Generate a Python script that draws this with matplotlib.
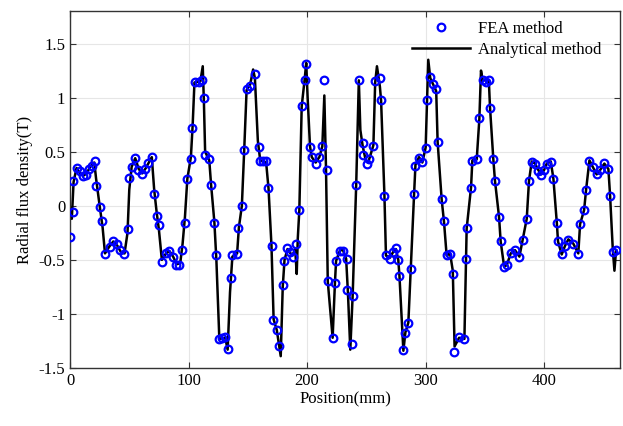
import matplotlib
matplotlib.use("Agg")
import matplotlib.pyplot as plt

plt.rcParams['font.family'] = ['Liberation Serif', 'DejaVu Serif']

fea_x = [0, 2.2, 2.8, 6.2, 8.4, 11.3, 13.5, 16.3, 18.3, 21.1, 22.0, 25.3, 26.7, 29.5,
         33.8, 36.6, 40.0, 42.2, 45.9, 48.7, 50.1, 52.0, 54.9, 57.7, 60.5, 63.3, 66.1,
         68.9, 71.2, 73.1, 74.8, 77.4, 81.0, 83.8, 86.6, 89.5, 92.3, 94.2, 97.0, 98.5,
         101.8, 103.2, 105.2, 108.6, 111.5, 112.8, 113.9, 117.6, 118.9, 121.8, 123.2,
         126.0, 128.0, 130.8, 133.0, 136.0, 137.0, 141.2, 142.0, 144.9, 146.9, 149.5,
         152.2, 156.5, 159.2, 160.3, 163.1, 165.4, 167.4, 170.2, 171.6, 174.4, 176.4,
         179.5, 180.9, 183.4, 185.7, 187.9, 190.4, 193.5, 195.5, 198.0, 199.0, 202.5,
         203.9, 207.3, 210.4, 212.9, 214.2, 216.6, 217.4, 221.6, 223.6, 224.4, 227.5,
         230.3, 233.7, 234.0, 238.0, 238.5, 241.6, 243.7, 247.0, 247.5, 250.9, 252.6,
         256.0, 257.7, 261.6, 262.2, 265.3, 266.6, 270.0, 272.3, 275.1, 277.1, 277.9,
         281.3, 282.7, 285.5, 287.5, 290.3, 291.1, 294.5, 297.3, 300.1, 301.3, 304.0,
         306.4, 309.0, 310.2, 313.6, 315.6, 317.8, 320.7, 323.5, 324.3, 328.3, 332.8,
         334.2, 334.7, 338.4, 339.5, 343.2, 345.4, 348.3, 350.7, 353.4, 354.4, 357.2,
         358.6, 362.0, 363.4, 366.3, 368.5, 371.9, 375.5, 379.2, 382.0, 385.4, 387.3,
         389.6, 392.4, 395.2, 397.5, 400.0, 402.3, 405.7, 407.9, 410.8, 411.8, 414.9,
         417.7, 420.5, 424.7, 428.9, 430.4, 433.8, 435.5, 438.3, 441.1, 444.4, 447.3,
         450.9, 454.3, 455.7, 458.5, 460.8]
fea_y = [-0.29, -0.06, 0.23, 0.35, 0.32, 0.28, 0.285, 0.34, 0.37, 0.41, 0.18, -0.01, -0.14, -0.45,
         -0.38, -0.325, -0.35, -0.41, -0.45, -0.21, 0.26, 0.36, 0.44, 0.33, 0.295, 0.34, 0.40,
         0.45, 0.11, -0.09, -0.175, -0.52, -0.44, -0.42, -0.47, -0.55, -0.55, -0.41, -0.16, 0.25,
         0.43, 0.72, 1.145, 1.145, 1.16, 1.00, 0.47, 0.43, 0.196, -0.16, -0.457,
         -1.233, -1.225, -1.215, -1.325, -0.663, -0.457, -0.442, -0.206, -0.006, 0.518, 1.08,
         1.11, 1.22, 0.54, 0.417, 0.417, 0.41, 0.166, -0.374, -1.06, -1.147, -1.30,
         -0.733, -0.509, -0.39, -0.426, -0.472, -0.356, -0.037, 0.923, 1.16, 1.315, 0.54,
         0.454, 0.387, 0.448, 0.555, 1.16, 0.331, -0.696, -1.218, -0.71, -0.512, -0.415,
         -0.42, -0.495, -0.78, -1.276, -0.83, 0.196, 1.16, 0.577, 0.472, 0.387, 0.433,
         0.555, 1.15, 1.18, 0.975, 0.095, -0.457, -0.488, -0.426, -0.387, -0.497, -0.65,
         -1.337, -1.172, -1.086, -0.58, 0.11, 0.371, 0.442, 0.402, 0.534, 0.98, 1.19,
         1.13, 1.08, 0.592, 0.064, -0.141, -0.457, -0.442, -0.626, -1.356, -1.215, -1.233,
         -0.494, -0.206, 0.166, 0.417, 0.433, 0.807, 1.16, 1.145, 1.16, 0.908, 0.433,
         0.233, -0.104, -0.328, -0.564, -0.549, -0.436, -0.411, -0.472, -0.313, -0.12, 0.233,
         0.408, 0.387, 0.325, 0.288, 0.33, 0.387, 0.408, 0.248, -0.16, -0.328, -0.448,
         -0.374, -0.313, -0.35, -0.442, -0.172, -0.037, 0.147, 0.417, 0.362, 0.294, 0.33,
         0.393, 0.34, 0.095, -0.426, -0.411]

ana_x = [0, 1.5, 3.0, 5.5, 8.5, 11.5, 14.0, 17.0, 20.5, 22.0, 25.0, 27.5, 29.5, 33.0, 36.5,
         40.0, 43.0, 46.0, 48.5, 50.0, 52.0, 55.0, 58.0, 61.0, 64.0, 67.0, 69.0, 71.0, 73.0,
         75.0, 77.5, 81.0, 84.0, 87.0, 90.0, 93.0, 95.0, 97.0, 99.0, 102.0, 103.5, 105.0,
         110.0, 112.0, 113.0, 114.0, 117.5, 119.0, 121.8, 123.5, 126.0, 131.0, 133.0, 135.0,
         137.0, 141.0, 142.5, 145.0, 147.0, 149.0, 152.0, 154.5, 156.0, 158.5, 160.5, 165.5,
         167.5, 170.0, 171.8, 174.5, 177.8, 179.5, 181.0, 183.5, 186.0, 188.0, 190.0, 191.3,
         192.2, 193.5, 195.5, 198.0, 199.3, 200.5, 202.5, 204.0, 207.3, 210.4, 212.9, 214.6,
         216.0, 217.5, 221.6, 223.6, 224.5, 227.5, 230.0, 233.0, 234.5, 236.5, 238.5, 241.5,
         243.7, 245.0, 247.0, 249.5, 251.5, 253.0, 256.0, 257.5, 259.0, 261.5, 262.5, 265.3,
         266.6, 270.0, 272.5, 275.0, 277.0, 278.0, 281.3, 283.0, 285.5, 287.5, 290.3, 291.5,
         294.5, 297.3, 300.1, 301.3, 302.3, 304.0, 306.5, 309.0, 310.2, 313.6, 315.6, 317.8,
         320.7, 323.0, 324.5, 328.3, 332.8, 334.2, 334.7, 338.4, 339.5, 343.2, 345.4, 346.8,
         348.3, 353.4, 354.4, 357.2, 358.6, 362.0, 363.4, 366.3, 368.5, 371.9, 375.5, 379.2,
         382.0, 385.4, 387.3, 389.6, 392.4, 395.2, 397.5, 400.0, 402.3, 405.7, 407.9, 410.8,
         411.8, 414.9, 417.7, 420.5, 424.7, 428.9, 430.4, 433.8, 435.5, 438.3, 441.1, 444.4,
         447.3, 450.9, 454.3, 455.7, 458.0, 459.4, 460.8]
ana_y = [-0.02, -0.12, 0.22, 0.35, 0.30, 0.28, 0.30, 0.36, 0.40, 0.25, 0.0, -0.2, -0.44, -0.38, -0.33,
         -0.37, -0.43, -0.44, -0.25, 0.15, 0.36, 0.44, 0.34, 0.30, 0.35, 0.41, 0.45, 0.15, -0.05,
         -0.22, -0.50, -0.44, -0.42, -0.47, -0.54, -0.53, -0.35, -0.10, 0.25, 0.45, 0.75, 1.14,
         1.15, 1.29, 0.95, 0.50, 0.42, 0.20, -0.15, -0.50, -1.23, -1.22, -1.33, -0.80,
         -0.47, -0.44, -0.20, 0.0, 0.52, 1.07, 1.12, 1.26, 1.18, 0.60, 0.42, 0.40,
         0.16, -0.37, -1.05, -1.15, -1.39, -0.75, -0.50, -0.40, -0.44, -0.45, -0.40, -0.63,
         -0.30, -0.04, 0.92, 1.17, 1.32, 1.0, 0.55, 0.45, 0.40, 0.45, 0.55, 1.02,
         0.35, -0.70, -1.22, -0.70, -0.51, -0.42, -0.40, -0.49, -0.80, -1.33, -0.83, 0.20,
         1.16, 0.70, 0.55, 0.42, 0.40, 0.45, 0.56, 1.14, 1.29, 1.10, 0.97, 0.10,
         -0.46, -0.48, -0.43, -0.40, -0.50, -0.65, -1.34, -1.17, -1.08, -0.58, 0.10, 0.38,
         0.45, 0.40, 0.54, 0.98, 1.35, 1.18, 1.12, 1.06, 0.59, 0.06, -0.15, -0.46,
         -0.44, -0.60, -1.30, -1.22, -1.23, -0.50, -0.21, 0.17, 0.42, 0.43, 0.80, 1.25,
         1.16, 1.16, 0.91, 0.43, 0.23, -0.10, -0.33, -0.56, -0.55, -0.44, -0.41, -0.47,
         -0.31, -0.12, 0.23, 0.41, 0.39, 0.33, 0.29, 0.33, 0.39, 0.41, 0.25, -0.16,
         -0.33, -0.45, -0.37, -0.31, -0.35, -0.44, -0.17, -0.04, 0.15, 0.42, 0.36, 0.29,
         0.33, 0.39, 0.34, 0.10, -0.40, -0.60, -0.41]

xticks = [0, 100, 200, 300, 400]
yticks = [-1.5, -1, -0.5, 0, 0.5, 1, 1.5]
ytick_labels = ['-1.5', '-1', '-0.5', '0', '0.5', '1', '1.5']

fig = plt.figure(figsize=(6.23, 4.26), dpi=100)
ax = fig.add_axes([0.1124, 0.136, 0.8826, 0.838])

ax.plot(fea_x, fea_y, linestyle='none', marker='o', markersize=5.5,
        markerfacecolor='none', markeredgecolor='#0000ff', markeredgewidth=1.6,
        label='FEA method', zorder=3)
ax.plot(ana_x, ana_y, color='black', linewidth=1.8, label='Analytical method', zorder=2)

ax.set_xlim(0, 464)
ax.set_ylim(-1.5, 1.8)
ax.set_xticks(xticks)
ax.set_yticks(yticks)
ax.set_yticklabels(ytick_labels)
ax.grid(True, color='#e6e6e6', linewidth=0.8)
ax.set_axisbelow(True)
ax.tick_params(direction='in', top=True, right=True, length=4, labelsize=12,
               color='#333333')
for s in ax.spines.values():
    s.set_color('#333333')
    s.set_linewidth(1.0)

ax.set_xlabel('Position(mm)', fontsize=12, labelpad=2)
ax.set_ylabel('Radial flux density(T)', fontsize=12, labelpad=4)

ax.legend(loc='upper right', bbox_to_anchor=(0.985, 1.0), frameon=False,
          fontsize=12, handlelength=3.5, handletextpad=0.5, labelspacing=0.3,
          borderaxespad=0.2)

fig.savefig('out.png', dpi=100)
